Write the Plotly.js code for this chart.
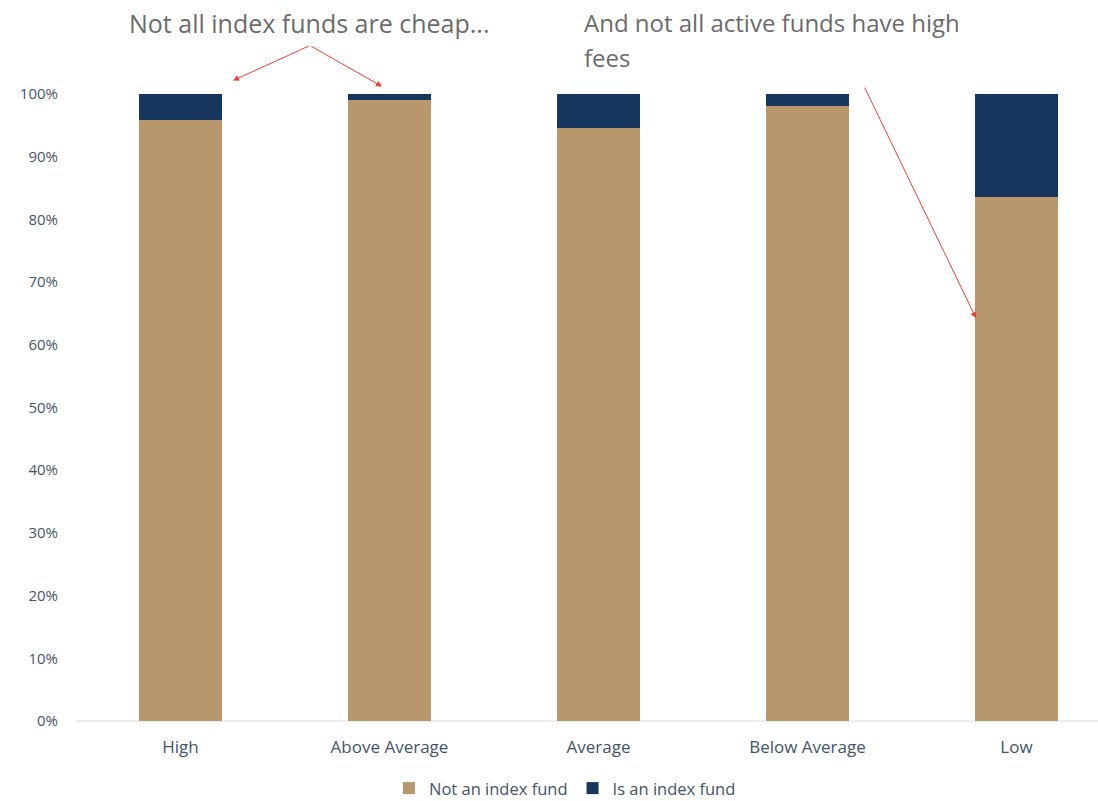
<!DOCTYPE html>
<html>
<head>
<meta charset="utf-8">
<script src="https://cdn.plot.ly/plotly-3.0.1.min.js"></script>
<style>html,body{margin:0;padding:0;background:#fff;}#chart{width:1098px;height:801px;}</style>
</head>
<body>
<div id="chart"></div>
<script>
var categories = ["High", "Above Average", "Average", "Below Average", "Low"];
var notIndex = [0.959, 0.991, 0.945, 0.981, 0.836];
var isIndex = [0.041, 0.009, 0.055, 0.019, 0.164];
var yTickVals = [0, 0.1, 0.2, 0.3, 0.4, 0.5, 0.6, 0.7, 0.8, 0.9, 1.0];
var yTickText = ["0%", "10%", "20%", "30%", "40%", "50%", "60%", "70%", "80%", "90%", "100%"];

var font = "'Open Sans', Lato, sans-serif";
var traces = [
  {type: "bar", name: "Not an index fund", x: categories, y: notIndex, marker: {color: "#b8976c"}, width: 0.4, hoverinfo: "none"},
  {type: "bar", name: "Is an index fund", x: categories, y: isIndex, marker: {color: "#17365d"}, width: 0.4, hoverinfo: "none"}
];
var L = 76, W = 1022, B = 721.5, H = 628;
function px(x){return (x - L)/W;}
function py(y){return (B - y)/H;}
var arrowColor = "#f03c3c";
var tickColor = "#44546a";
var layout = {
  width: 1098, height: 801,
  margin: {l: 76, r: 0, t: 93.5, b: 79.5, autoexpand: false},
  paper_bgcolor: "#ffffff", plot_bgcolor: "#ffffff",
  barmode: "stack",
  font: {family: font, color: tickColor, size: 15},
  xaxis: {type: "category", range: [-0.5, 4.39], showgrid: false, zeroline: false, showline: false, ticks: "", tickfont: {size: 17, color: tickColor}, ticklabelstandoff: 14, automargin: false},
  yaxis: {range: [0, 1], tickvals: yTickVals, ticktext: yTickText, showgrid: false, zeroline: false, showline: false, ticks: "", tickfont: {size: 15, color: tickColor}, ticklabelstandoff: 17, automargin: false},
  showlegend: true,
  legend: {orientation: "h", x: px(565), xanchor: "center", y: py(789), yanchor: "middle", font: {size: 16.5, color: tickColor}, itemwidth: 30, traceorder: "normal"},
  shapes: [
    {type: "line", xref: "paper", yref: "paper", x0: 0, x1: 1, y0: 0, y1: 0, line: {color: "#d9d9d9", width: 1}, layer: "below"}
  ],
  annotations: [
    {xref: "paper", yref: "paper", x: px(309), y: py(22), text: "Not all index funds are cheap...", showarrow: false, xanchor: "center", yanchor: "middle", font: {size: 25, color: "#6b6b6b", family: font}},
    {xref: "paper", yref: "paper", x: px(582), y: py(22), text: "And not all active funds have high", showarrow: false, xanchor: "left", yanchor: "middle", font: {size: 24, color: "#6b6b6b", family: font}},
    {xref: "paper", yref: "paper", x: px(582), y: py(57), text: "fees", showarrow: false, xanchor: "left", yanchor: "middle", font: {size: 24, color: "#6b6b6b", family: font}},
    {xref: "paper", yref: "paper", x: px(233), y: py(80), ax: 77, ay: -35, text: "", showarrow: true, arrowhead: 2, arrowsize: 1.2, arrowwidth: 1, arrowcolor: arrowColor},
    {xref: "paper", yref: "paper", x: px(382), y: py(86), ax: -72, ay: -41, text: "", showarrow: true, arrowhead: 2, arrowsize: 1.2, arrowwidth: 1, arrowcolor: arrowColor},
    {xref: "paper", yref: "paper", x: px(976), y: py(318), ax: -112, ay: -232, text: "", showarrow: true, arrowhead: 2, arrowsize: 1.2, arrowwidth: 1, arrowcolor: arrowColor}
  ]
};
Plotly.newPlot("chart", traces, layout, {displayModeBar: false, staticPlot: true});
</script>
</body>
</html>
